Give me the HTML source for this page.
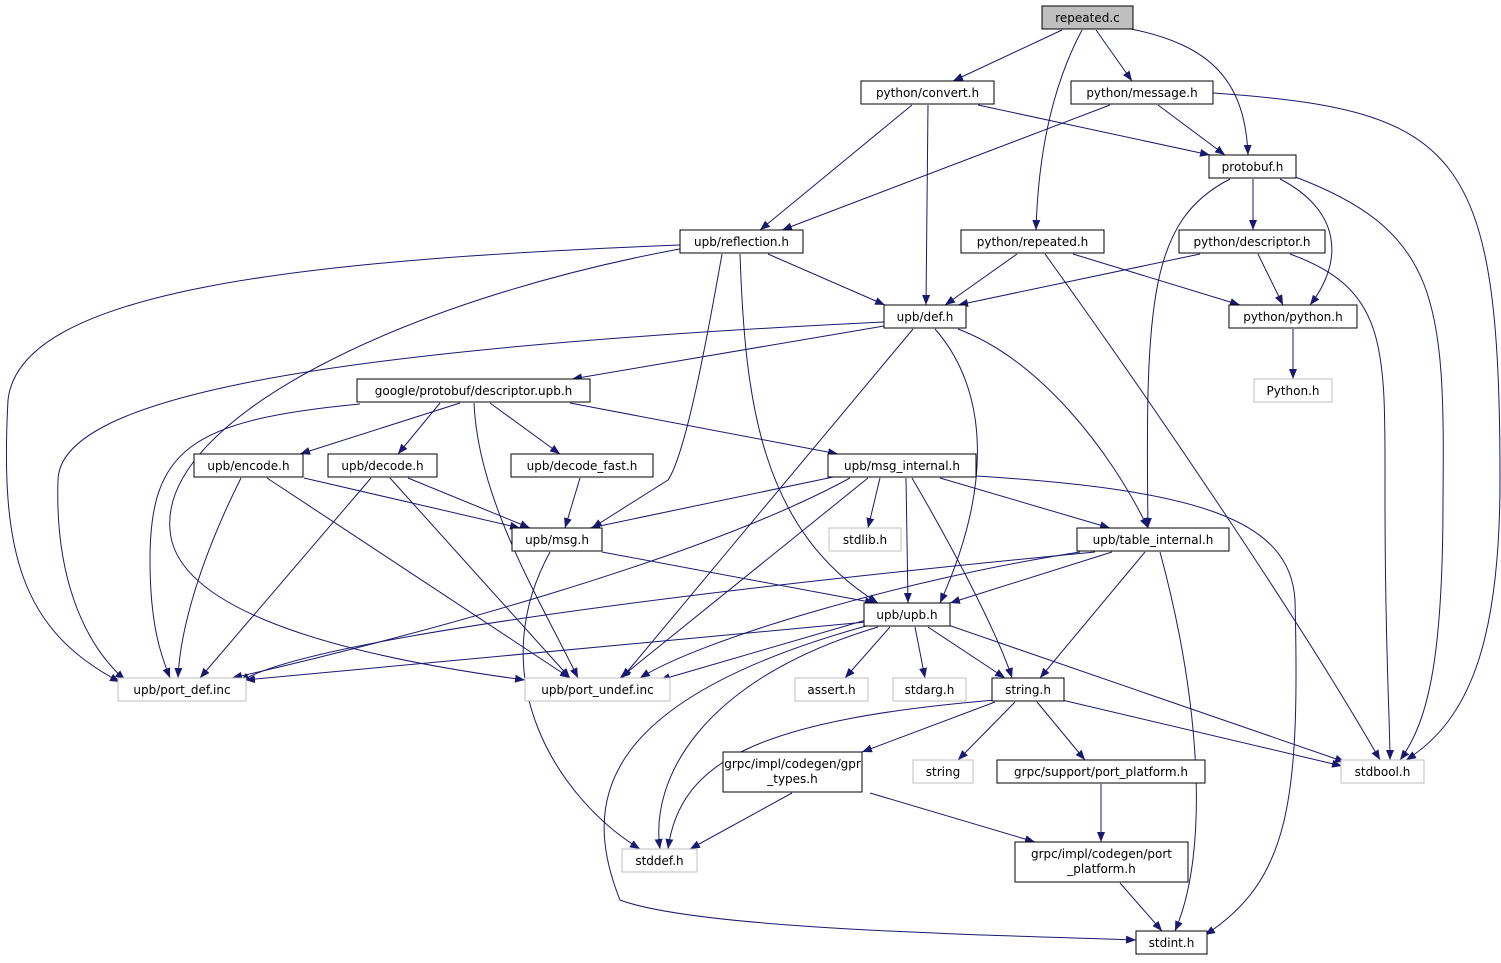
<!DOCTYPE html>
<html><head><meta charset="utf-8"><style>
html,body{margin:0;padding:0;background:#fff;}
svg{display:block;}
text{font-family:"DejaVu Sans","Liberation Sans",sans-serif;font-size:12px;fill:#000;}
.n{fill:#fff;stroke:#000;stroke-width:1;}
.g{fill:#fff;stroke:#bfbfbf;stroke-width:1;}
.e{fill:none;stroke:#191970;stroke-width:1;marker-end:url(#a);}
</style></head><body>
<svg width="1501" height="963" viewBox="0 0 1501 963" xmlns="http://www.w3.org/2000/svg">
<defs><marker id="a" markerWidth="10" markerHeight="8" refX="10" refY="4" orient="auto" markerUnits="userSpaceOnUse"><path d="M0,0 L10,4 L0,8 z" fill="#191970"/></marker></defs>
<g>
<path class="e" d="M1062,30 L953,81"/>
<path class="e" d="M1096,30 L1132,81"/>
<path class="e" d="M1131,29 C1210,45 1245,80 1248,155"/>
<path class="e" d="M1082,30 C1050,90 1038,160 1036,230"/>
<path class="e" d="M912,105 L760,230"/>
<path class="e" d="M928,105 L926,305"/>
<path class="e" d="M978,105 L1210,155"/>
<path class="e" d="M1110,105 L782,230"/>
<path class="e" d="M1158,105 L1225,155"/>
<path class="e" d="M1213,93 C1460,110 1500,150 1500,480 C1500,640 1470,720 1406,760"/>
<path class="e" d="M1253,179 L1253,230"/>
<path class="e" d="M1280,179 C1340,210 1345,260 1310,305"/>
<path class="e" d="M1230,179 C1150,220 1145,300 1148,528"/>
<path class="e" d="M1290,175 C1440,230 1445,300 1443,500 C1443,650 1430,720 1400,760"/>
<path class="e" d="M680,245 C300,260 20,290 8,400 C0,550 20,630 120,682"/>
<path class="e" d="M685,248 C400,300 160,420 170,530 C175,600 300,650 525,680"/>
<path class="e" d="M722,254 C705,350 685,455 668,480 L592,528"/>
<path class="e" d="M740,254 C745,400 760,530 878,603"/>
<path class="e" d="M768,254 L885,305"/>
<path class="e" d="M1017,254 L945,305"/>
<path class="e" d="M1073,254 L1240,305"/>
<path class="e" d="M1045,254 C1150,400 1300,620 1380,760"/>
<path class="e" d="M1200,254 L958,305"/>
<path class="e" d="M1258,254 L1283,305"/>
<path class="e" d="M1290,254 C1390,290 1385,350 1385,500 C1385,650 1390,720 1390,760"/>
<path class="e" d="M1293,329 L1293,379"/>
<path class="e" d="M884,322 C300,350 60,400 58,480 C55,570 80,640 125,680"/>
<path class="e" d="M890,325 L572,379"/>
<path class="e" d="M913,329 L622,678"/>
<path class="e" d="M935,329 C980,380 1000,470 940,603"/>
<path class="e" d="M958,329 C1040,360 1110,450 1148,528"/>
<path class="e" d="M460,403 L300,454"/>
<path class="e" d="M440,403 L398,454"/>
<path class="e" d="M490,403 L560,454"/>
<path class="e" d="M570,403 L838,454"/>
<path class="e" d="M360,404 C190,420 150,450 150,560 C150,630 163,660 170,678"/>
<path class="e" d="M474,403 C478,500 540,600 578,678"/>
<path class="e" d="M304,478 L520,528"/>
<path class="e" d="M241,478 C200,560 180,630 178,678"/>
<path class="e" d="M267,478 L570,678"/>
<path class="e" d="M408,478 L530,528"/>
<path class="e" d="M371,478 L200,678"/>
<path class="e" d="M390,478 L570,678"/>
<path class="e" d="M580,478 L565,528"/>
<path class="e" d="M838,476 L590,528"/>
<path class="e" d="M880,478 L868,528"/>
<path class="e" d="M906,478 L908,603"/>
<path class="e" d="M940,478 L1110,528"/>
<path class="e" d="M912,478 C960,560 1000,640 1012,678"/>
<path class="e" d="M850,478 C700,560 400,640 232,678"/>
<path class="e" d="M868,478 L620,678"/>
<path class="e" d="M976,476 C1200,490 1290,520 1295,600 C1300,800 1290,880 1205,935"/>
<path class="e" d="M602,552 L875,603"/>
<path class="e" d="M550,552 C480,680 560,800 640,849"/>
<path class="e" d="M1112,552 L950,603"/>
<path class="e" d="M1145,552 L1040,678"/>
<path class="e" d="M1160,552 C1200,700 1210,850 1175,931"/>
<path class="e" d="M1095,552 C700,590 300,640 240,682"/>
<path class="e" d="M1080,552 C900,580 700,640 640,678"/>
<path class="e" d="M866,622 L245,680"/>
<path class="e" d="M866,620 L660,680"/>
<path class="e" d="M890,627 L845,678"/>
<path class="e" d="M915,627 L925,678"/>
<path class="e" d="M928,627 L1005,678"/>
<path class="e" d="M948,625 L1345,762"/>
<path class="e" d="M878,627 C700,680 650,780 660,849"/>
<path class="e" d="M866,626 C600,700 580,800 620,900 C700,930 1000,935 1136,940"/>
<path class="e" d="M995,702 L862,752"/>
<path class="e" d="M1015,702 L958,760"/>
<path class="e" d="M1037,702 L1085,760"/>
<path class="e" d="M1062,700 L1342,766"/>
<path class="e" d="M995,700 C760,720 680,760 668,849"/>
<path class="e" d="M792,793 L690,849"/>
<path class="e" d="M870,793 L1035,842"/>
<path class="e" d="M1101,784 L1101,842"/>
<path class="e" d="M1120,883 L1162,931"/>
</g>
<rect x="1042" y="6" width="91" height="23" fill="#bfbfbf" stroke="#000"/><text x="1087.5" y="22" text-anchor="middle">repeated.c</text>
<rect class="n" x="861" y="81" width="133" height="23"/><text x="927.5" y="97" text-anchor="middle">python/convert.h</text>
<rect class="n" x="1071" y="81" width="142" height="23"/><text x="1142" y="97" text-anchor="middle">python/message.h</text>
<rect class="n" x="1209" y="155" width="87" height="23"/><text x="1252.5" y="171" text-anchor="middle">protobuf.h</text>
<rect class="n" x="680" y="230" width="123" height="23"/><text x="741.5" y="246" text-anchor="middle">upb/reflection.h</text>
<rect class="n" x="961" y="230" width="143" height="23"/><text x="1032.5" y="246" text-anchor="middle">python/repeated.h</text>
<rect class="n" x="1179" y="230" width="146" height="23"/><text x="1252" y="246" text-anchor="middle">python/descriptor.h</text>
<rect class="n" x="884" y="305" width="82" height="23"/><text x="925" y="321" text-anchor="middle">upb/def.h</text>
<rect class="n" x="1229" y="305" width="128" height="23"/><text x="1293" y="321" text-anchor="middle">python/python.h</text>
<rect class="g" x="1254" y="379" width="78" height="23"/><text x="1293" y="395" text-anchor="middle">Python.h</text>
<rect class="n" x="357" y="379" width="233" height="23"/><text x="473.5" y="395" text-anchor="middle">google/protobuf/descriptor.upb.h</text>
<rect class="n" x="194" y="454" width="109" height="23"/><text x="248.5" y="470" text-anchor="middle">upb/encode.h</text>
<rect class="n" x="328" y="454" width="109" height="23"/><text x="382.5" y="470" text-anchor="middle">upb/decode.h</text>
<rect class="n" x="511" y="454" width="142" height="23"/><text x="582" y="470" text-anchor="middle">upb/decode_fast.h</text>
<rect class="n" x="828" y="454" width="148" height="23"/><text x="902" y="470" text-anchor="middle">upb/msg_internal.h</text>
<rect class="n" x="512" y="528" width="90" height="23"/><text x="557" y="544" text-anchor="middle">upb/msg.h</text>
<rect class="g" x="829" y="528" width="72" height="23"/><text x="865" y="544" text-anchor="middle">stdlib.h</text>
<rect class="n" x="1077" y="528" width="152" height="23"/><text x="1153" y="544" text-anchor="middle">upb/table_internal.h</text>
<rect class="n" x="864" y="603" width="86" height="23"/><text x="907" y="619" text-anchor="middle">upb/upb.h</text>
<rect class="g" x="118" y="678" width="128" height="23"/><text x="182" y="694" text-anchor="middle">upb/port_def.inc</text>
<rect class="g" x="525" y="678" width="145" height="23"/><text x="597.5" y="694" text-anchor="middle">upb/port_undef.inc</text>
<rect class="g" x="795" y="678" width="73" height="23"/><text x="831.5" y="694" text-anchor="middle">assert.h</text>
<rect class="g" x="893" y="678" width="73" height="23"/><text x="929.5" y="694" text-anchor="middle">stdarg.h</text>
<rect class="n" x="992" y="678" width="72" height="23"/><text x="1028" y="694" text-anchor="middle">string.h</text>
<rect class="n" x="723" y="752" width="139" height="40"/><text x="792.5" y="768" text-anchor="middle">grpc/impl/codegen/gpr</text><text x="792.5" y="783" text-anchor="middle">_types.h</text>
<rect class="g" x="913" y="760" width="60" height="23"/><text x="943" y="776" text-anchor="middle">string</text>
<rect class="n" x="997" y="760" width="208" height="23"/><text x="1101" y="776" text-anchor="middle">grpc/support/port_platform.h</text>
<rect class="g" x="1341" y="760" width="83" height="23"/><text x="1382.5" y="776" text-anchor="middle">stdbool.h</text>
<rect class="g" x="622" y="849" width="75" height="23"/><text x="659.5" y="865" text-anchor="middle">stddef.h</text>
<rect class="n" x="1015" y="842" width="173" height="40"/><text x="1101.5" y="858" text-anchor="middle">grpc/impl/codegen/port</text><text x="1101.5" y="873" text-anchor="middle">_platform.h</text>
<rect class="n" x="1136" y="931" width="71" height="23"/><text x="1171.5" y="947" text-anchor="middle">stdint.h</text>
</svg>
</body></html>
